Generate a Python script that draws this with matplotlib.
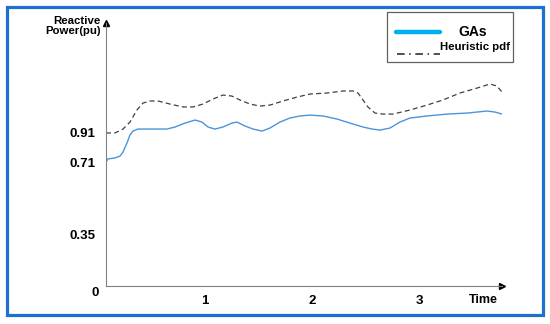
"""Reactive power over time: GAs versus heuristic pdf (schematic chart)."""

import numpy as np
import matplotlib
matplotlib.use("Agg")
import matplotlib.pyplot as plt
from matplotlib.patches import Rectangle
from matplotlib.lines import Line2D

plt.rcParams["font.family"] = ["Liberation Sans", "DejaVu Sans"]
plt.rcParams["font.weight"] = "bold"

# Values
time_ga = [0.075, 0.093, 0.159, 0.206, 0.234, 0.271, 0.299, 0.327, 0.374,
           0.458, 0.645, 0.720, 0.813, 0.907, 0.972, 1.028, 1.093, 1.168,
           1.252, 1.299, 1.374, 1.449, 1.533, 1.607, 1.701, 1.794, 1.888,
           1.981, 2.103, 2.234, 2.355, 2.477, 2.561, 2.636, 2.729, 2.822,
           2.916, 3.075, 3.262, 3.449, 3.636, 3.710, 3.776]
power_ga = [0.710, 0.731, 0.738, 0.751, 0.779, 0.841, 0.896, 0.923, 0.937,
            0.937, 0.937, 0.951, 0.978, 0.999, 0.985, 0.951, 0.937, 0.951,
            0.978, 0.985, 0.958, 0.937, 0.923, 0.944, 0.985, 1.013, 1.027,
            1.033, 1.027, 1.006, 0.978, 0.951, 0.937, 0.930, 0.944, 0.985,
            1.013, 1.027, 1.040, 1.047, 1.061, 1.054, 1.040]

time_heur = [0.075, 0.159, 0.234, 0.299, 0.364, 0.421, 0.486, 0.561, 0.673,
             0.794, 0.888, 0.981, 1.075, 1.168, 1.252, 1.327, 1.421, 1.514,
             1.607, 1.729, 1.860, 1.981, 2.140, 2.290, 2.383, 2.430, 2.477,
             2.523, 2.589, 2.664, 2.757, 2.916, 3.075, 3.224, 3.383, 3.542,
             3.664, 3.729, 3.776]
power_heur = [0.910, 0.910, 0.937, 0.985, 1.068, 1.116, 1.130, 1.130, 1.109,
              1.089, 1.089, 1.109, 1.144, 1.171, 1.164, 1.137, 1.109, 1.095,
              1.102, 1.130, 1.157, 1.178, 1.185, 1.199, 1.199, 1.185, 1.137,
              1.089, 1.047, 1.040, 1.040, 1.068, 1.102, 1.137, 1.185, 1.219,
              1.247, 1.233, 1.192]

ytick_values = [0.35, 0.71, 0.91]
ytick_labels = ["0.35", "0.71", "0.91"]
xtick_values = [1, 2, 3]
legend_labels = ["GAs", "Heuristic pdf"]

# The drawn y axis is not linear: piecewise mapping pu -> pixels
PU_NODES = [-10.0, 0.0, 0.35, 0.71, 10.0]
PX_NODES = [-1486.0, 0.0, 52.0, 124.0, 1473.8]


def forward(v):
    return np.interp(v, PU_NODES, PX_NODES)


def inverse(d):
    return np.interp(d, PX_NODES, PU_NODES)


W, H = 550, 324
fig = plt.figure(figsize=(W / 100, H / 100), dpi=100)
ax = fig.add_axes([106 / W, 1 - 286 / H, (502 - 106) / W, (286 - 23) / H])

ax.set_yscale("function", functions=(forward, inverse))
ax.set_xlim(0.075, 3.776)
ax.set_ylim(0, 1.667)

ax.plot(time_heur, power_heur, color="#404040", lw=0.9, dashes=(4, 2.6),
        solid_joinstyle="round")
ax.plot(time_ga, power_ga, color="#4a94dc", lw=1.0, solid_joinstyle="round")

for side in ("top", "right"):
    ax.spines[side].set_visible(False)
for side in ("left", "bottom"):
    ax.spines[side].set_color("#808080")
    ax.spines[side].set_linewidth(0.8)

# axis arrow heads
ax.plot(0, 1, marker="^", color="black", ms=5, transform=ax.transAxes,
        clip_on=False)
ax.plot(1, 0, marker=">", color="black", ms=5, transform=ax.transAxes,
        clip_on=False)

ax.set_yticks(ytick_values, ytick_labels)
ax.set_xticks(xtick_values, [str(v) for v in xtick_values])
ax.tick_params(axis="y", length=0, pad=7.5, labelsize=9.5)
ax.tick_params(axis="x", length=0, pad=6.5, labelsize=9.5)
ax.minorticks_off()

ax.annotate("0", xy=(0, 0), xycoords="axes fraction", xytext=(-7, -7),
            textcoords="offset pixels", ha="right", va="center",
            fontsize=9.5, fontweight="bold")
ax.annotate("Time", xy=(1, 0), xycoords="axes fraction", xytext=(-19, -14),
            textcoords="offset pixels", ha="center", va="center",
            fontsize=9, fontweight="bold")
ax.annotate("Reactive\nPower(pu)", xy=(0, 1), xycoords="axes fraction",
            xytext=(-5, -3), textcoords="offset pixels", ha="right",
            va="center", multialignment="right", linespacing=1.0,
            fontsize=8.2, fontweight="bold")


def fpx(x, y):
    """Pixel position (from top-left) to figure fraction."""
    return x / W, 1 - y / H


# Legend box drawn by hand to match its layout
x0, y0 = fpx(387, 62)
x1, y1 = fpx(513, 12)
fig.patches.append(Rectangle((x0, y0), x1 - x0, y1 - y0, transform=fig.transFigure,
                             fill=False, edgecolor="#606060", lw=0.9))
lx0, ly = fpx(396, 32)
lx1, _ = fpx(440, 32)
fig.lines.append(Line2D([lx0, lx1], [ly, ly], transform=fig.transFigure,
                        color="#00b0f0", lw=3.2, solid_capstyle="round"))
hx0, hy = fpx(397, 54)
hx1, _ = fpx(440, 54)
fig.lines.append(Line2D([hx0, hx1], [hy, hy], transform=fig.transFigure,
                        color="#202020", lw=1.1, dashes=(5, 3, 1, 3)))
fig.text(*fpx(473, 32), legend_labels[0], ha="center", va="center",
         fontsize=10, fontweight="bold")
fig.text(*fpx(440, 47), legend_labels[1], ha="left", va="center",
         fontsize=8.2, fontweight="bold")

# Blue outer frame
bx0, by0 = fpx(7, 315)
bx1, by1 = fpx(543, 7)
fig.patches.append(Rectangle((bx0, by0), bx1 - bx0, by1 - by0,
                             transform=fig.transFigure, fill=False,
                             edgecolor="#1e6fd2", lw=2.3))

fig.savefig("out.png", dpi=100)
